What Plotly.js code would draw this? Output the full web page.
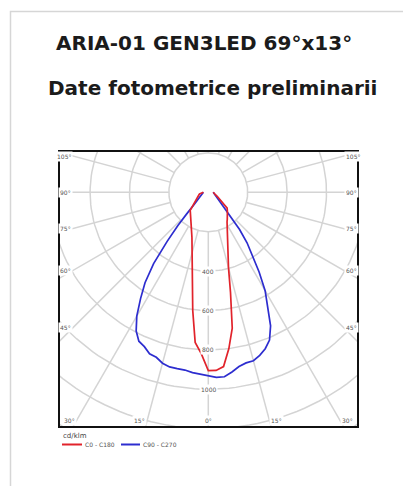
<!DOCTYPE html>
<html><head><meta charset="utf-8">
<script src="https://cdn.plot.ly/plotly-3.0.1.min.js"></script>
<style>html,body{margin:0;padding:0;background:#fff;overflow:hidden}</style>
</head><body><div id="chart" style="width:403px;height:486px"></div>
<script>
// ---------- data ----------
const gammaDeg = [0,2.5,5,7.5,10,12.5,15,17.5,20,22.5,25,27.5,30,32.5,35,37.5,40,42.5,45,50,55,60,65,70,75,80,85,90];
const c0   = [905,905,888,800,700,521,396,333,285,251,224,204,188,177,168,160,152,144,137,125,88,62,51,40,35,31,28,25];
const c180 = [905,820,765,605,467,378,318,275,243,219,199,185,176,166,157,149,141,135,130,104,84,72,62,54,49,45,36,25];
const c90  = [931,940,940,920,898,887,885,868,845,812,748,655,577,480,392,323,247,163,126,83,64,50,42,36,32,29.5,27,25];
const c270 = [931,925,919,910,909,908,898,878,872,848,834,793,726,640,560,456,325,227,155,90,66,54,43,38,33,30,27,25];
const ringValues = [200,400,600,800,1000,1200,1400];
const ringLabelValues = [400,600,800,1000];
const spokeAngles = [0,15,30,45,60,75,90,105,120,135,150,165,180,195,210,225,240,255,270,285,300,315,330,345];
const sideAngleLabels = [45,60,75,90,105];
const bottomAngleLabels = [0,15,30];
const seriesNames = ['C0 - C180','C90 - C270'];
const unitLabel = 'cd/klm';
const titleText = 'ARIA-01 GEN3LED 69°x13°';
const subtitleText = 'Date fotometrice preliminarii';

// ---------- geometry (pixels) ----------
const W=403,H=486;
const plotL=59, plotR=358, plotT=151, plotB=427;
const cx=208.3, cy=192.3;
const pxPerUnit=0.197;
const xRange=[(plotL-cx)/pxPerUnit,(plotR-cx)/pxPerUnit];
const yRange=[-(plotB-cy)/pxPerUnit,(cy-plotT)/pxPerUnit];
const rad=d=>d*Math.PI/180;
const paperX=px=>(px-plotL)/(plotR-plotL);
const paperY=py=>(plotB-py)/(plotB-plotT);

const gridColor='#d4d4d4', labelColor='#555', red='#e1232b', blue='#2d2dcf';

// rings
const rx=[],ry=[];
ringValues.forEach(r=>{for(let a=0;a<=360;a+=2){rx.push(r*Math.sin(rad(a)));ry.push(-r*Math.cos(rad(a)));}rx.push(null);ry.push(null);});
// spokes
const sx=[],sy=[];
spokeAngles.forEach(a=>{[200,1700].forEach(r=>{sx.push(r*Math.sin(rad(a)));sy.push(-r*Math.cos(rad(a)));});sx.push(null);sy.push(null);});

function curve(rightVals,leftVals){
  const x=[],y=[];
  for(let i=gammaDeg.length-1;i>=0;i--){const g=rad(gammaDeg[i]);x.push(-leftVals[i]*Math.sin(g));y.push(-leftVals[i]*Math.cos(g));}
  for(let i=1;i<gammaDeg.length;i++){const g=rad(gammaDeg[i]);x.push(rightVals[i]*Math.sin(g));y.push(-rightVals[i]*Math.cos(g));}
  return {x,y};
}
const redC=curve(c0,c180), blueC=curve(c90,c270);

const traces=[
 {x:rx,y:ry,mode:'lines',line:{color:gridColor,width:1.5},hoverinfo:'skip',showlegend:false},
 {x:sx,y:sy,mode:'lines',line:{color:gridColor,width:1.5},hoverinfo:'skip',showlegend:false},
 {x:blueC.x,y:blueC.y,mode:'lines',name:seriesNames[1],line:{color:blue,width:1.7},showlegend:false},
 {x:redC.x,y:redC.y,mode:'lines',name:seriesNames[0],line:{color:red,width:1.7},showlegend:false}
];

const tickFont={family:'DejaVu Sans',size:6,color:labelColor};
const ann=[];
const lab=(o)=>Object.assign({showarrow:false,yanchor:'middle',xanchor:'center',font:tickFont,bgcolor:'#fff',borderpad:1},o);
ringLabelValues.forEach(v=>ann.push(lab({x:0,y:-v,xref:'x',yref:'y',text:String(v)})));
const sideXpx=73;
sideAngleLabels.forEach(a=>{
  const dxu=(cx-sideXpx)/pxPerUnit; const yv=-dxu/Math.tan(rad(a));
  ann.push(lab({x:-dxu,y:yv,xref:'x',yref:'y',text:a+'°',xanchor:'right'}));
  ann.push(lab({x:dxu,y:yv,xref:'x',yref:'y',text:a+'°',xanchor:'left'}));
});
const botYpx=420;
bottomAngleLabels.forEach(a=>{
  const dyu=(botYpx-cy)/pxPerUnit; const xv=dyu*Math.tan(rad(a));
  if(a===0){ann.push(lab({x:0,y:-dyu,xref:'x',yref:'y',text:a+'°'}));}
  else{
    ann.push(lab({x:-xv,y:-dyu,xref:'x',yref:'y',text:a+'°',xanchor:'right'}));
    ann.push(lab({x:xv,y:-dyu,xref:'x',yref:'y',text:a+'°',xanchor:'left'}));
  }
});
// titles
ann.push({x:paperX(204),y:paperY(43),xref:'paper',yref:'paper',xanchor:'center',yanchor:'middle',text:titleText,showarrow:false,font:{family:'DejaVu Sans',size:20,weight:700,color:'#1b1b1b'}});
ann.push({x:paperX(212),y:paperY(88),xref:'paper',yref:'paper',xanchor:'center',yanchor:'middle',text:subtitleText,showarrow:false,font:{family:'DejaVu Sans',size:20,weight:700,color:'#1b1b1b'}});
// legend
ann.push({x:paperX(61),y:paperY(436),xref:'paper',yref:'paper',text:unitLabel,showarrow:false,xanchor:'left',yanchor:'middle',font:{family:'DejaVu Sans',size:7,color:'#444'}});
ann.push({x:paperX(83),y:paperY(444.5),xref:'paper',yref:'paper',text:seriesNames[0],showarrow:false,xanchor:'left',yanchor:'middle',font:tickFont});
ann.push({x:paperX(141),y:paperY(444.5),xref:'paper',yref:'paper',text:seriesNames[1],showarrow:false,xanchor:'left',yanchor:'middle',font:tickFont});

const shapes=[
 {type:'rect',xref:'paper',yref:'paper',x0:paperX(10.5),x1:paperX(430),y0:paperY(11.5),y1:paperY(520),line:{color:'#d6d6d6',width:1.5},layer:'below'},
 {type:'rect',xref:'paper',yref:'paper',x0:0,x1:1,y0:0,y1:1,line:{color:'#111',width:2}},
 {type:'line',xref:'paper',yref:'paper',x0:paperX(62),x1:paperX(82),y0:paperY(444.5),y1:paperY(444.5),line:{color:red,width:2}},
 {type:'line',xref:'paper',yref:'paper',x0:paperX(121),x1:paperX(140),y0:paperY(444.5),y1:paperY(444.5),line:{color:blue,width:2}}
];

const layout={
 width:W,height:H,margin:{l:plotL,r:W-plotR,t:plotT,b:H-plotB,pad:0},
 paper_bgcolor:'#fff',plot_bgcolor:'#fff',showlegend:false,
 xaxis:{range:xRange,visible:false,fixedrange:true},
 yaxis:{range:yRange,visible:false,fixedrange:true},
 annotations:ann,shapes:shapes
};
Plotly.newPlot('chart',traces,layout,{staticPlot:true,displayModeBar:false});
</script></body></html>
